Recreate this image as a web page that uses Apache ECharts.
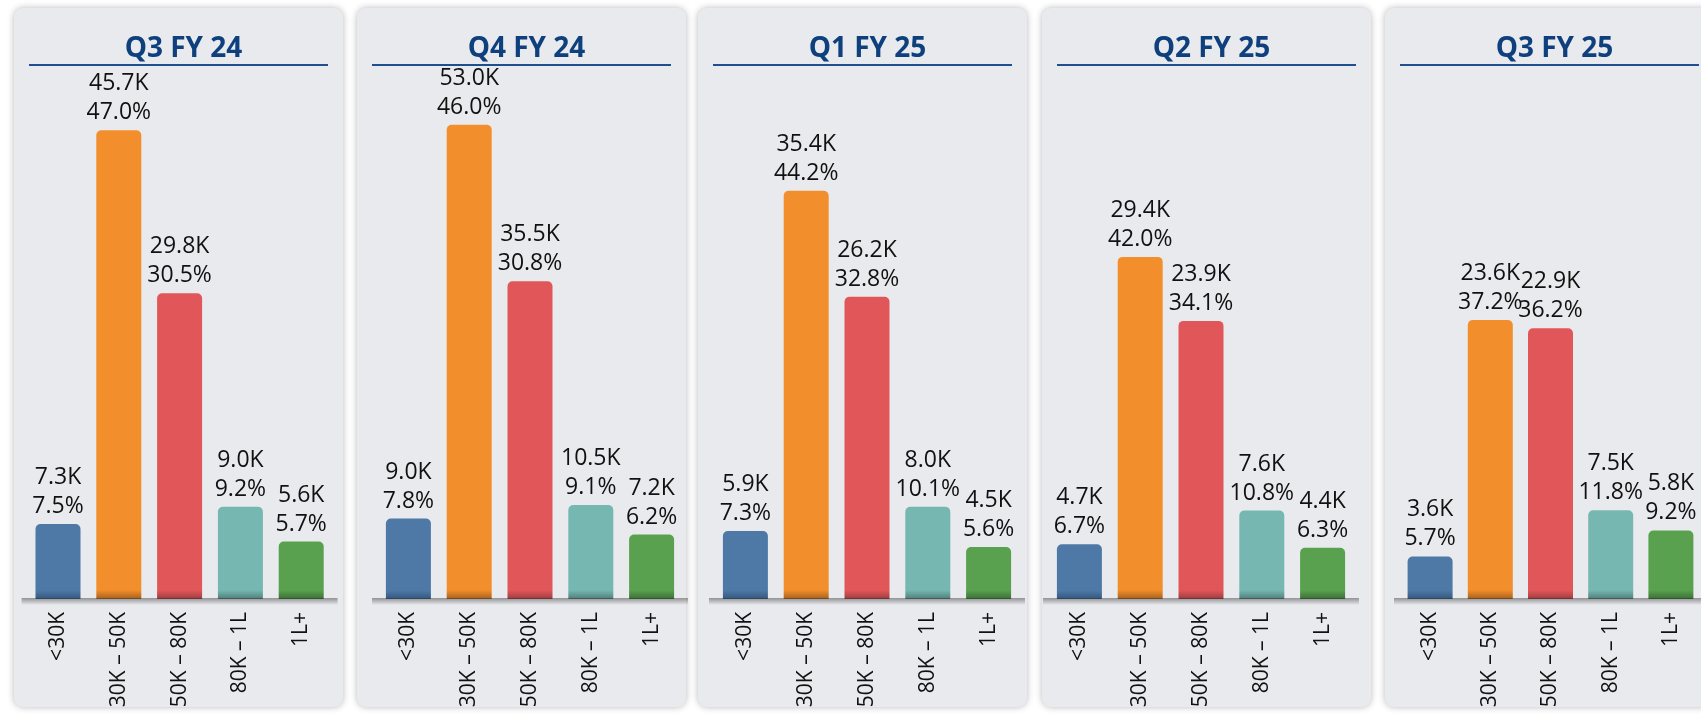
<!DOCTYPE html>
<html>
<head>
<meta charset="utf-8">
<title>Salary band split by quarter</title>
<script src="https://cdn.jsdelivr.net/npm/echarts@6/dist/echarts.min.js"></script>
<style>
  html, body { margin: 0; padding: 0; background: #ffffff; }
  #chart { width: 1701px; height: 714px; }
</style>
</head>
<body>
<div id="chart"></div>
<script>
// data
const quarters = ['Q3 FY 24', 'Q4 FY 24', 'Q1 FY 25', 'Q2 FY 25', 'Q3 FY 25'];
const bands = ['<30K', '30K – 50K', '50K – 80K', '80K – 1L', '1L+'];

// counts in thousands, one array per quarter
const countQ3FY24 = [7.3, 45.7, 29.8, 9.0, 5.6];
const countQ4FY24 = [9.0, 53.0, 35.5, 10.5, 7.2];
const countQ1FY25 = [5.9, 35.4, 26.2, 8.0, 4.5];
const countQ2FY25 = [4.7, 29.4, 23.9, 7.6, 4.4];
const countQ3FY25 = [3.6, 23.6, 22.9, 7.5, 5.8];

// share of the quarter, %
const shareQ3FY24 = [7.5, 47.0, 30.5, 9.2, 5.7];
const shareQ4FY24 = [7.8, 46.0, 30.8, 9.1, 6.2];
const shareQ1FY25 = [7.3, 44.2, 32.8, 10.1, 5.6];
const shareQ2FY25 = [6.7, 42.0, 34.1, 10.8, 6.3];
const shareQ3FY25 = [5.7, 37.2, 36.2, 11.8, 9.2];

const counts = [countQ3FY24, countQ4FY24, countQ1FY25, countQ2FY25, countQ3FY25];
const shares = [shareQ3FY24, shareQ4FY24, shareQ1FY25, shareQ2FY25, shareQ3FY25];

// layout
const panelLeft = [14, 357, 698, 1042, 1385];
const panelW = 329;
const gridLeft = [27.6, 378, 715, 1049, 1400];
const gridW = 304;
const gridTop = 80;
const baseY = 599;
const yMax = [50.6, 58.0, 45.0, 44.6, 43.9]; // each panel has its own scale

const colors = ['#4e79a7', '#f28e2b', '#e15759', '#76b7b2', '#59a14f'];
const darks = ['#35587e', '#a5601d', '#9c3c3e', '#4f7f7b', '#3c7035'];

const FONT = '"Open Sans", "Noto Sans", sans-serif';

function barColor(j) {
  // darkening near the floor, in page pixels
  return {
    type: 'linear', x: 0, y: baseY - 16, x2: 0, y2: baseY, global: true,
    colorStops: [
      { offset: 0, color: colors[j] },
      { offset: 0.45, color: colors[j] },
      { offset: 1, color: darks[j] }
    ]
  };
}

const grids = [], xAxes = [], yAxes = [], series = [], titles = [], graphics = [];

quarters.forEach((q, i) => {
  const cx = panelLeft[i] + panelW / 2;

  graphics.push({
    type: 'rect', z: 0,
    shape: { x: panelLeft[i], y: 8, width: panelW, height: 699, r: 9 },
    style: { fill: '#e9eaee', shadowBlur: 7, shadowColor: 'rgba(0,0,0,0.28)' }
  });
  graphics.push({
    type: 'rect', z: 1,
    shape: { x: panelLeft[i] + 15, y: 64, width: 299, height: 2 },
    style: { fill: '#1f4f8e' }
  });
  // floor shadow under the bars
  graphics.push({
    type: 'rect', z: 10, silent: true,
    shape: { x: gridLeft[i] - 6, y: baseY - 1, width: gridW + 12, height: 7 },
    style: {
      fill: {
        type: 'linear', x: 0, y: 0, x2: 0, y2: 1,
        colorStops: [
          { offset: 0, color: 'rgba(40,40,40,0.45)' },
          { offset: 1, color: 'rgba(40,40,40,0)' }
        ]
      }
    }
  });

  titles.push({
    text: q,
    left: cx,
    top: 30,
    textAlign: 'center',
    textStyle: { fontFamily: FONT, fontWeight: 'bold', fontSize: 28, color: '#0f407e' }
  });

  grids.push({ left: gridLeft[i], top: gridTop, width: gridW, height: baseY - gridTop });

  xAxes.push({
    type: 'category',
    gridIndex: i,
    data: bands,
    axisLine: { show: false },
    axisTick: { show: false },
    axisLabel: {
      rotate: 90,
      margin: 13,
      fontFamily: FONT,
      fontSize: 21,
      color: '#111111',
      interval: 0
    }
  });

  yAxes.push({
    type: 'value',
    gridIndex: i,
    min: 0,
    max: yMax[i],
    show: false,
    splitLine: { show: false }
  });

  series.push({
    type: 'bar',
    name: q,
    xAxisIndex: i,
    yAxisIndex: i,
    barWidth: 45,
    data: counts[i].map((v, j) => ({
      value: v,
      itemStyle: { color: barColor(j), borderRadius: [5, 5, 0, 0] }
    })),
    label: {
      show: true,
      position: 'top',
      distance: 3,
      fontFamily: FONT,
      fontSize: 23,
      lineHeight: 29,
      color: '#111111',
      formatter: (p) => p.value.toFixed(1) + 'K\n' + shares[i][p.dataIndex].toFixed(1) + '%'
    }
  });
});

const chart = echarts.init(document.getElementById('chart'), null, { renderer: 'canvas' });
chart.setOption({
  backgroundColor: '#ffffff',
  animation: false,
  title: titles,
  grid: grids,
  xAxis: xAxes,
  yAxis: yAxes,
  series: series,
  graphic: graphics
});
</script>
</body>
</html>
